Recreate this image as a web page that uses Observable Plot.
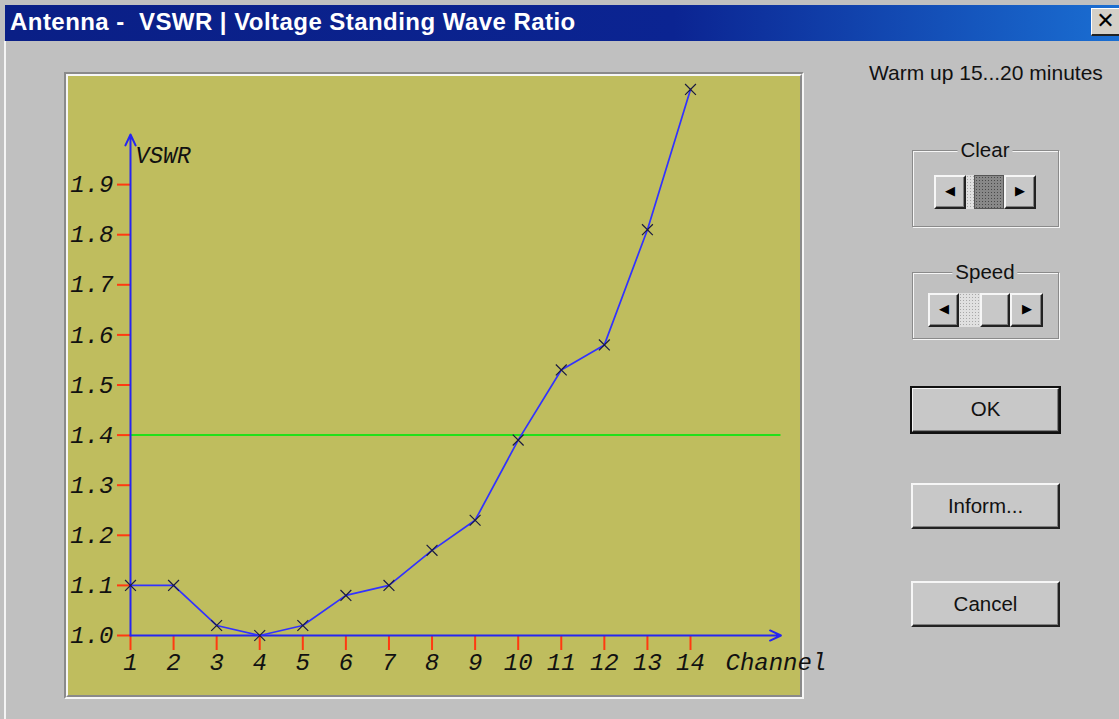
<!DOCTYPE html>
<html>
<head>
<meta charset="utf-8">
<script src="https://cdn.jsdelivr.net/npm/d3@7"></script>
<script src="https://cdn.jsdelivr.net/npm/@observablehq/plot@0.6"></script>
<style>
  html, body { margin: 0; padding: 0; }
  body { width: 1119px; height: 719px; background: #c0c0c0; position: relative; overflow: hidden; font-family: "Liberation Sans", Arial, sans-serif; }
  .abs { position: absolute; }
  #titlebar { left: 5px; top: 5px; width: 1114px; height: 36px;
    background: linear-gradient(to right, #0a1f86 0%, #0b2492 60%, #1a6ed2 100%); }
  #titletext { left: 10px; top: 8px; color: #fff; font-weight: bold; font-size: 24px; white-space: pre; letter-spacing: 0.45px; }
  #close { left: 1091px; top: 8px; width: 28px; height: 28px; background: #d4d0c8;
    border-top: 1px solid #fff; border-left: 1px solid #fff; border-bottom: 2px solid #222; box-sizing: border-box;
    font: bold 22px "DejaVu Sans", sans-serif; line-height: 24px; text-align: center; color: #000; }
  #leftedge { left: 4px; top: 41px; width: 2px; height: 678px; background: #f4f4f4; }
  #panel { left: 64px; top: 72px; width: 740px; height: 627px; box-sizing: border-box;
    border-top: 2px solid #8a8a8a; border-left: 2px solid #8a8a8a; border-bottom: 2px solid #f6f6f6; border-right: 2px solid #f6f6f6; }
  #panelinner { left: 66px; top: 74px; width: 736px; height: 623px; box-sizing: border-box;
    border-top: 2px solid #f6f6f6; border-left: 2px solid #f6f6f6; border-bottom: 2px solid #8a8a8a; border-right: 2px solid #8a8a8a; background: #bfbd5e; }
  #chart { left: 68px; top: 76px; }
  #warm { left: 869px; top: 61px; font-size: 21px; color: #111; white-space: nowrap; }
  .group { box-sizing: border-box; border: 1px solid #8a8a8a; box-shadow: 1px 1px 0 #f6f6f6, inset 1px 1px 0 #f6f6f6; }
  .glabel { background: #c0c0c0; padding: 0 3px; font-size: 20.5px; color: #111; line-height: 20px; transform: translateX(-50%); }
  .btn { box-sizing: border-box; background: #c8c8c8; border-top: 2px solid #f6f6f6; border-left: 2px solid #f6f6f6;
    border-right: 2px solid #222; border-bottom: 2px solid #222; box-shadow: inset -1px -1px 0 #808080;
    font-size: 20.5px; color: #111; text-align: center; }
  .sbtn { box-sizing: border-box; background: #c8c8c8; border-top: 2px solid #f6f6f6; border-left: 2px solid #f6f6f6;
    border-right: 2px solid #222; border-bottom: 2px solid #222; box-shadow: inset -1px -1px 0 #808080;
    font-size: 13px; color: #000; text-align: center; line-height: 28px; }
  .track { background-color: #e0e0e0; background-image: radial-gradient(#a8a8a8 0.8px, transparent 0.9px); background-size: 3px 3px; }
  .darkthumb { background-color: #888; background-image: radial-gradient(#4a4a4a 0.9px, transparent 1px); background-size: 3px 3px; box-sizing: border-box; border: 1px solid #555; }
</style>
</head>
<body>
<div id="titlebar" class="abs"></div>
<div id="titletext" class="abs">Antenna -  VSWR | Voltage Standing Wave Ratio</div>
<div id="close" class="abs">✕</div>
<div id="leftedge" class="abs"></div>
<div id="panel" class="abs"></div>
<div id="panelinner" class="abs"></div>
<div id="chart" class="abs"></div>

<div id="warm" class="abs">Warm up 15...20 minutes</div>

<!-- Clear group -->
<div class="abs group" style="left:912px;top:150px;width:147px;height:77px;"></div>
<div class="abs glabel" style="left:985px;top:140px;">Clear</div>
<div class="abs sbtn" style="left:934px;top:175px;width:32px;height:34px;">◀</div>
<div class="abs track" style="left:966px;top:175px;width:8px;height:34px;"></div>
<div class="abs darkthumb" style="left:974px;top:175px;width:30px;height:34px;"></div>
<div class="abs sbtn" style="left:1004px;top:175px;width:32px;height:34px;">▶</div>

<!-- Speed group -->
<div class="abs group" style="left:912px;top:272px;width:147px;height:67px;"></div>
<div class="abs glabel" style="left:985px;top:262px;">Speed</div>
<div class="abs sbtn" style="left:928px;top:293px;width:31px;height:34px;">◀</div>
<div class="abs track" style="left:959px;top:293px;width:21px;height:34px;"></div>
<div class="abs sbtn" style="left:980px;top:293px;width:30px;height:34px;"></div>
<div class="abs sbtn" style="left:1010px;top:293px;width:33px;height:34px;">▶</div>

<!-- Buttons -->
<div class="abs btn" style="left:911px;top:387px;width:149px;height:46px;line-height:40px;outline:2px solid #111;outline-offset:-1px;">OK</div>
<div class="abs btn" style="left:911px;top:483px;width:149px;height:46px;line-height:42px;">Inform...</div>
<div class="abs btn" style="left:911px;top:581px;width:149px;height:46px;line-height:42px;">Cancel</div>

<script>
// ---- data ----
const channels = [1, 2, 3, 4, 5, 6, 7, 8, 9, 10, 11, 12, 13, 14];
const vswr = [1.10, 1.10, 1.02, 1.00, 1.02, 1.08, 1.10, 1.17, 1.23, 1.39, 1.53, 1.58, 1.81, 2.09];
const yTicks = [1.0, 1.1, 1.2, 1.3, 1.4, 1.5, 1.6, 1.7, 1.8, 1.9];
const xTicks = [1, 2, 3, 4, 5, 6, 7, 8, 9, 10, 11, 12, 13, 14];
const limit = 1.4;
const yMin = 1.0, yMax = 2.0;
const xArrowEnd = 16.1;
const yLabel = "VSWR";
const xLabel = "Channel";

const data = channels.map((c, i) => ({channel: c, vswr: vswr[i]}));

const font = {fontFamily: "'Liberation Mono', 'Courier New', monospace", fontStyle: "italic", fontSize: 24};
const axisBlue = "#2626f0";
const tickRed = "#ff3a10";

const chart = Plot.plot({
  width: 732,
  height: 620,
  marginLeft: 62,
  marginRight: 110,
  marginTop: 58,
  marginBottom: 61,
  style: {background: "transparent", overflow: "visible"},
  x: {domain: [channels[0], channels[channels.length - 1]], axis: null},
  y: {domain: [yMin, yMax], axis: null},
  marks: [
    Plot.axisY(yTicks, {tickSize: 13, tickPadding: 4, stroke: tickRed, fill: "#111", strokeWidth: 2,
      tickFormat: d => d.toFixed(1), label: null, ...font}),
    Plot.axisX(xTicks, {anchor: "bottom", tickSize: 15, tickPadding: 2, stroke: tickRed, fill: "#111", strokeWidth: 2,
      tickFormat: d => String(d), label: null, ...font}),
    Plot.ruleY([limit], {x1: channels[0], x2: xArrowEnd, stroke: "#22e01a", strokeWidth: 2}),
    Plot.arrow([0], {x1: channels[0], y1: yMin, x2: xArrowEnd, y2: yMin, stroke: axisBlue, strokeWidth: 2, headLength: 9, headAngle: 50}),
    Plot.arrow([0], {x1: channels[0], y1: yMin, x2: channels[0], y2: yMax, stroke: axisBlue, strokeWidth: 2, headLength: 9, headAngle: 50}),
    Plot.line(data, {x: "channel", y: "vswr", stroke: "#3232ff", strokeWidth: 1.7}),
    Plot.dot(data, {x: "channel", y: "vswr", symbol: "times", r: 5, stroke: "#1a1a40", strokeWidth: 1.2}),
    Plot.text([yLabel], {x: channels[0], y: yMax, dx: 5, dy: 21, text: d => d, textAnchor: "start", fill: "#111", ...font, fontSize: 23, letterSpacing: 1}),
    Plot.text([xLabel], {x: channels[channels.length - 1], y: yMin, dx: 35, dy: 27, text: d => d, textAnchor: "start", fill: "#111", ...font, letterSpacing: 1})
  ]
});
document.getElementById("chart").appendChild(chart);
</script>
</body>
</html>
